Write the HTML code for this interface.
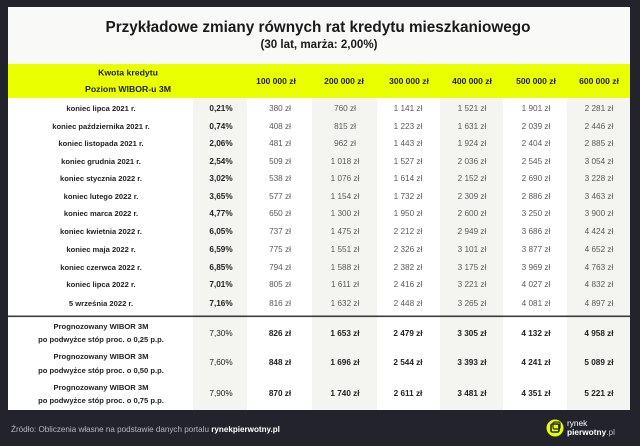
<!DOCTYPE html>
<html>
<head>
<meta charset="utf-8">
<style>
html,body{margin:0;padding:0;background:#23242b;}
svg{display:block;}
</style>
</head>
<body>
<svg width="640" height="446" viewBox="0 0 640 446" xmlns="http://www.w3.org/2000/svg" font-family="'Liberation Sans', Arial, sans-serif">
<rect x="0" y="0" width="640" height="446" fill="#23242b"/>
<!-- card -->
<rect x="8" y="7" width="622" height="403" fill="#f9f9f8"/>
<rect x="8" y="98" width="622" height="312" fill="#ffffff"/>
<!-- gray columns -->
<rect x="193" y="98" width="54" height="312" fill="#f4f4f1"/>
<rect x="312" y="98" width="65" height="312" fill="#f4f4f1"/>
<rect x="440" y="98" width="63" height="312" fill="#f4f4f1"/>
<rect x="567" y="98" width="63" height="312" fill="#f4f4f1"/>
<!-- yellow header -->
<rect x="8" y="64" width="622" height="34" fill="#eaff00"/>
<!-- title -->
<text x="318" y="32" text-anchor="middle" font-size="15.5" font-weight="bold" fill="#1a1a1a" textLength="425" lengthAdjust="spacingAndGlyphs">Przykładowe zmiany równych rat kredytu mieszkaniowego</text>
<text x="319" y="48" text-anchor="middle" font-size="11.5" font-weight="bold" fill="#1a1a1a" textLength="117" lengthAdjust="spacingAndGlyphs">(30 lat, marża: 2,00%)</text>
<!-- header -->
<g font-size="8.7" font-weight="bold" fill="#222" text-anchor="middle">
<text x="128" y="75.5">Kwota kredytu</text>
<text x="128" y="92">Poziom WIBOR-u 3M</text>
</g>
<g font-size="8.5" font-weight="bold" fill="#222" text-anchor="middle">
<text x="276" y="84">100 000 zł</text>
<text x="344" y="84">200 000 zł</text>
<text x="409" y="84">300 000 zł</text>
<text x="472" y="84">400 000 zł</text>
<text x="536" y="84">500 000 zł</text>
<text x="599" y="84">600 000 zł</text>
</g>
<!-- labels -->
<g font-size="7.6" font-weight="bold" fill="#222" text-anchor="middle">
<text x="101" y="111">koniec lipca 2021 r.</text>
<text x="101" y="129">koniec października 2021 r.</text>
<text x="101" y="146">koniec listopada 2021 r.</text>
<text x="101" y="164">koniec grudnia 2021 r.</text>
<text x="101" y="181">koniec stycznia 2022 r.</text>
<text x="101" y="199">koniec lutego 2022 r.</text>
<text x="101" y="216">koniec marca 2022 r.</text>
<text x="101" y="234">koniec kwietnia 2022 r.</text>
<text x="101" y="252">koniec maja 2022 r.</text>
<text x="101" y="270">koniec czerwca 2022 r.</text>
<text x="101" y="287">koniec lipca 2022 r.</text>
<text x="101" y="306">5 września 2022 r.</text>
<text x="101" y="329">Prognozowany WIBOR 3M</text>
<text x="101" y="342">po podwyżce stóp proc. o 0,25 p.p.</text>
<text x="101" y="359">Prognozowany WIBOR 3M</text>
<text x="101" y="373">po podwyżce stóp proc. o 0,50 p.p.</text>
<text x="101" y="390">Prognozowany WIBOR 3M</text>
<text x="101" y="403">po podwyżce stóp proc. o 0,75 p.p.</text>
</g>
<!-- percents -->
<g font-size="8.2" font-weight="bold" fill="#222" text-anchor="middle">
<text x="221" y="111">0,21%</text>
<text x="221" y="129">0,74%</text>
<text x="221" y="146">2,06%</text>
<text x="221" y="164">2,54%</text>
<text x="221" y="181">3,02%</text>
<text x="221" y="199">3,65%</text>
<text x="221" y="216">4,77%</text>
<text x="221" y="234">6,05%</text>
<text x="221" y="252">6,59%</text>
<text x="221" y="270">6,85%</text>
<text x="221" y="287">7,01%</text>
<text x="221" y="306">7,16%</text>
</g>
<g font-size="8.2" fill="#222" text-anchor="middle">
<text x="221" y="336">7,30%</text>
<text x="221" y="365">7,60%</text>
<text x="221" y="396">7,90%</text>
</g>
<!-- values -->
<g font-size="8.2" fill="#5a5a5a" text-anchor="middle">
<text x="280" y="111">380 zł</text><text x="345" y="111">760 zł</text><text x="408" y="111">1 141 zł</text><text x="472" y="111">1 521 zł</text><text x="536" y="111">1 901 zł</text><text x="599" y="111">2 281 zł</text>
<text x="280" y="129">408 zł</text><text x="345" y="129">815 zł</text><text x="408" y="129">1 223 zł</text><text x="472" y="129">1 631 zł</text><text x="536" y="129">2 039 zł</text><text x="599" y="129">2 446 zł</text>
<text x="280" y="146">481 zł</text><text x="345" y="146">962 zł</text><text x="408" y="146">1 443 zł</text><text x="472" y="146">1 924 zł</text><text x="536" y="146">2 404 zł</text><text x="599" y="146">2 885 zł</text>
<text x="280" y="164">509 zł</text><text x="345" y="164">1 018 zł</text><text x="408" y="164">1 527 zł</text><text x="472" y="164">2 036 zł</text><text x="536" y="164">2 545 zł</text><text x="599" y="164">3 054 zł</text>
<text x="280" y="181">538 zł</text><text x="345" y="181">1 076 zł</text><text x="408" y="181">1 614 zł</text><text x="472" y="181">2 152 zł</text><text x="536" y="181">2 690 zł</text><text x="599" y="181">3 228 zł</text>
<text x="280" y="199">577 zł</text><text x="345" y="199">1 154 zł</text><text x="408" y="199">1 732 zł</text><text x="472" y="199">2 309 zł</text><text x="536" y="199">2 886 zł</text><text x="599" y="199">3 463 zł</text>
<text x="280" y="216">650 zł</text><text x="345" y="216">1 300 zł</text><text x="408" y="216">1 950 zł</text><text x="472" y="216">2 600 zł</text><text x="536" y="216">3 250 zł</text><text x="599" y="216">3 900 zł</text>
<text x="280" y="234">737 zł</text><text x="345" y="234">1 475 zł</text><text x="408" y="234">2 212 zł</text><text x="472" y="234">2 949 zł</text><text x="536" y="234">3 686 zł</text><text x="599" y="234">4 424 zł</text>
<text x="280" y="252">775 zł</text><text x="345" y="252">1 551 zł</text><text x="408" y="252">2 326 zł</text><text x="472" y="252">3 101 zł</text><text x="536" y="252">3 877 zł</text><text x="599" y="252">4 652 zł</text>
<text x="280" y="270">794 zł</text><text x="345" y="270">1 588 zł</text><text x="408" y="270">2 382 zł</text><text x="472" y="270">3 175 zł</text><text x="536" y="270">3 969 zł</text><text x="599" y="270">4 763 zł</text>
<text x="280" y="287">805 zł</text><text x="345" y="287">1 611 zł</text><text x="408" y="287">2 416 zł</text><text x="472" y="287">3 221 zł</text><text x="536" y="287">4 027 zł</text><text x="599" y="287">4 832 zł</text>
<text x="280" y="306">816 zł</text><text x="345" y="306">1 632 zł</text><text x="408" y="306">2 448 zł</text><text x="472" y="306">3 265 zł</text><text x="536" y="306">4 081 zł</text><text x="599" y="306">4 897 zł</text>
</g>
<g font-size="8.2" font-weight="bold" fill="#222" text-anchor="middle">
<text x="280" y="336">826 zł</text><text x="345" y="336">1 653 zł</text><text x="408" y="336">2 479 zł</text><text x="472" y="336">3 305 zł</text><text x="536" y="336">4 132 zł</text><text x="599" y="336">4 958 zł</text>
<text x="280" y="365">848 zł</text><text x="345" y="365">1 696 zł</text><text x="408" y="365">2 544 zł</text><text x="472" y="365">3 393 zł</text><text x="536" y="365">4 241 zł</text><text x="599" y="365">5 089 zł</text>
<text x="280" y="396">870 zł</text><text x="345" y="396">1 740 zł</text><text x="408" y="396">2 611 zł</text><text x="472" y="396">3 481 zł</text><text x="536" y="396">4 351 zł</text><text x="599" y="396">5 221 zł</text>
</g>
<!-- separator -->
<rect x="8" y="315.5" width="622" height="1.6" fill="#3a3a3a"/>
<!-- footer -->
<text x="11" y="432" font-size="8.1" fill="#b8b8bc">Źródło: Obliczenia własne na podstawie danych portalu <tspan font-weight="bold" fill="#ffffff">rynekpierwotny.pl</tspan></text>
<!-- logo -->
<circle cx="555" cy="428" r="8.5" fill="#e6ff00"/>
<rect x="551" y="424" width="8" height="8" rx="1.5" fill="none" stroke="#23242b" stroke-width="1.6"/>
<rect x="553" y="422" width="7" height="7" rx="1.5" fill="none" stroke="#23242b" stroke-width="1.2"/>
<text x="567" y="426" font-size="8.3" fill="#ffffff">rynek</text>
<text x="567" y="435" font-size="8.3" font-weight="bold" fill="#ffffff">pierwotny<tspan font-weight="normal" fill="#bbbbbb">.pl</tspan></text>
</svg>
</body>
</html>
